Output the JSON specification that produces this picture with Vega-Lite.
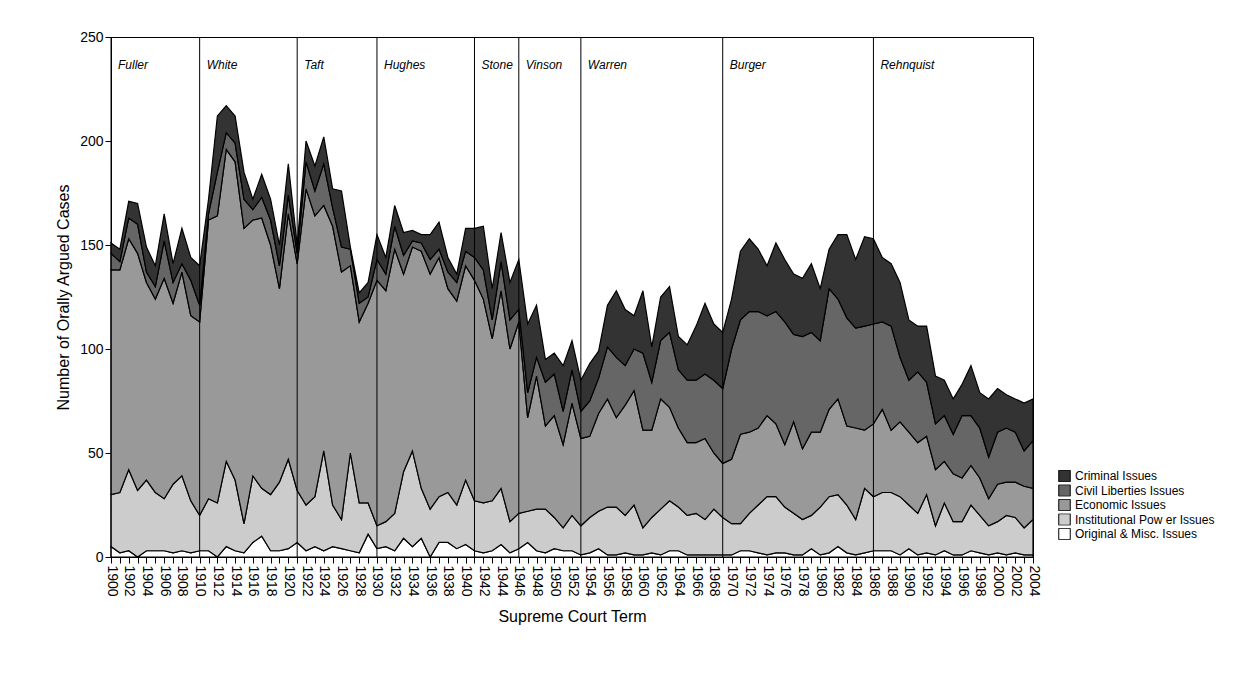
{
  "$schema": "https://vega.github.io/schema/vega-lite/v6.json",
  "width": 922,
  "height": 520,
  "autosize": {"type": "none"},
  "padding": {"left": 111, "top": 37, "right": 221, "bottom": 120},
  "background": "white",
  "config": {
    "font": "Liberation Sans",
    "view": {"stroke": "black", "strokeWidth": 1},
    "axis": {"domainColor": "black", "tickColor": "black", "labelColor": "black", "titleColor": "black", "grid": false, "titleFontWeight": "normal"}
  },
  "datasets": {
    "terms": [
      {"term": 1900, "orig": 5, "inst": 25, "econ": 108, "civil": 8, "crim": 5},
      {"term": 1901, "orig": 2, "inst": 29, "econ": 107, "civil": 4, "crim": 6},
      {"term": 1902, "orig": 3, "inst": 39, "econ": 111, "civil": 10, "crim": 8},
      {"term": 1903, "orig": 0, "inst": 32, "econ": 114, "civil": 14, "crim": 10},
      {"term": 1904, "orig": 3, "inst": 34, "econ": 95, "civil": 5, "crim": 12},
      {"term": 1905, "orig": 3, "inst": 28, "econ": 93, "civil": 6, "crim": 10},
      {"term": 1906, "orig": 3, "inst": 25, "econ": 106, "civil": 18, "crim": 13},
      {"term": 1907, "orig": 2, "inst": 33, "econ": 87, "civil": 10, "crim": 9},
      {"term": 1908, "orig": 3, "inst": 36, "econ": 98, "civil": 4, "crim": 17},
      {"term": 1909, "orig": 2, "inst": 25, "econ": 89, "civil": 17, "crim": 11},
      {"term": 1910, "orig": 3, "inst": 17, "econ": 93, "civil": 8, "crim": 19},
      {"term": 1911, "orig": 3, "inst": 25, "econ": 134, "civil": 3, "crim": 7},
      {"term": 1912, "orig": 0, "inst": 26, "econ": 138, "civil": 21, "crim": 27},
      {"term": 1913, "orig": 5, "inst": 41, "econ": 150, "civil": 8, "crim": 13},
      {"term": 1914, "orig": 3, "inst": 34, "econ": 153, "civil": 9, "crim": 13},
      {"term": 1915, "orig": 2, "inst": 14, "econ": 142, "civil": 14, "crim": 13},
      {"term": 1916, "orig": 7, "inst": 32, "econ": 123, "civil": 5, "crim": 5},
      {"term": 1917, "orig": 10, "inst": 23, "econ": 130, "civil": 10, "crim": 11},
      {"term": 1918, "orig": 3, "inst": 27, "econ": 120, "civil": 12, "crim": 10},
      {"term": 1919, "orig": 3, "inst": 33, "econ": 93, "civil": 11, "crim": 10},
      {"term": 1920, "orig": 4, "inst": 43, "econ": 118, "civil": 9, "crim": 15},
      {"term": 1921, "orig": 7, "inst": 25, "econ": 109, "civil": 5, "crim": 4},
      {"term": 1922, "orig": 3, "inst": 22, "econ": 152, "civil": 13, "crim": 10},
      {"term": 1923, "orig": 5, "inst": 24, "econ": 135, "civil": 12, "crim": 12},
      {"term": 1924, "orig": 3, "inst": 48, "econ": 118, "civil": 20, "crim": 13},
      {"term": 1925, "orig": 5, "inst": 20, "econ": 134, "civil": 9, "crim": 9},
      {"term": 1926, "orig": 4, "inst": 14, "econ": 119, "civil": 12, "crim": 27},
      {"term": 1927, "orig": 3, "inst": 47, "econ": 90, "civil": 8, "crim": 1},
      {"term": 1928, "orig": 2, "inst": 24, "econ": 87, "civil": 9, "crim": 5},
      {"term": 1929, "orig": 11, "inst": 15, "econ": 96, "civil": 3, "crim": 7},
      {"term": 1930, "orig": 4, "inst": 11, "econ": 118, "civil": 10, "crim": 12},
      {"term": 1931, "orig": 5, "inst": 12, "econ": 111, "civil": 8, "crim": 8},
      {"term": 1932, "orig": 3, "inst": 18, "econ": 127, "civil": 11, "crim": 10},
      {"term": 1933, "orig": 9, "inst": 32, "econ": 95, "civil": 9, "crim": 11},
      {"term": 1934, "orig": 5, "inst": 46, "econ": 98, "civil": 3, "crim": 5},
      {"term": 1935, "orig": 9, "inst": 24, "econ": 114, "civil": 4, "crim": 4},
      {"term": 1936, "orig": 0, "inst": 23, "econ": 113, "civil": 7, "crim": 12},
      {"term": 1937, "orig": 7, "inst": 22, "econ": 115, "civil": 4, "crim": 13},
      {"term": 1938, "orig": 7, "inst": 24, "econ": 98, "civil": 8, "crim": 7},
      {"term": 1939, "orig": 4, "inst": 21, "econ": 98, "civil": 9, "crim": 4},
      {"term": 1940, "orig": 6, "inst": 31, "econ": 103, "civil": 7, "crim": 11},
      {"term": 1941, "orig": 3, "inst": 24, "econ": 106, "civil": 11, "crim": 14},
      {"term": 1942, "orig": 2, "inst": 24, "econ": 98, "civil": 14, "crim": 21},
      {"term": 1943, "orig": 3, "inst": 24, "econ": 78, "civil": 9, "crim": 15},
      {"term": 1944, "orig": 6, "inst": 27, "econ": 95, "civil": 14, "crim": 14},
      {"term": 1945, "orig": 2, "inst": 15, "econ": 83, "civil": 14, "crim": 18},
      {"term": 1946, "orig": 4, "inst": 17, "econ": 92, "civil": 6, "crim": 24},
      {"term": 1947, "orig": 7, "inst": 15, "econ": 45, "civil": 12, "crim": 33},
      {"term": 1948, "orig": 3, "inst": 20, "econ": 64, "civil": 9, "crim": 25},
      {"term": 1949, "orig": 2, "inst": 21, "econ": 40, "civil": 21, "crim": 11},
      {"term": 1950, "orig": 4, "inst": 15, "econ": 49, "civil": 20, "crim": 10},
      {"term": 1951, "orig": 3, "inst": 11, "econ": 40, "civil": 16, "crim": 22},
      {"term": 1952, "orig": 3, "inst": 17, "econ": 54, "civil": 16, "crim": 14},
      {"term": 1953, "orig": 1, "inst": 14, "econ": 42, "civil": 13, "crim": 15},
      {"term": 1954, "orig": 2, "inst": 17, "econ": 39, "civil": 17, "crim": 18},
      {"term": 1955, "orig": 4, "inst": 18, "econ": 47, "civil": 17, "crim": 13},
      {"term": 1956, "orig": 1, "inst": 23, "econ": 52, "civil": 25, "crim": 20},
      {"term": 1957, "orig": 1, "inst": 23, "econ": 43, "civil": 29, "crim": 32},
      {"term": 1958, "orig": 2, "inst": 18, "econ": 53, "civil": 19, "crim": 27},
      {"term": 1959, "orig": 1, "inst": 24, "econ": 55, "civil": 20, "crim": 16},
      {"term": 1960, "orig": 1, "inst": 13, "econ": 47, "civil": 37, "crim": 30},
      {"term": 1961, "orig": 2, "inst": 17, "econ": 42, "civil": 23, "crim": 17},
      {"term": 1962, "orig": 1, "inst": 22, "econ": 53, "civil": 28, "crim": 21},
      {"term": 1963, "orig": 3, "inst": 24, "econ": 45, "civil": 36, "crim": 22},
      {"term": 1964, "orig": 3, "inst": 21, "econ": 38, "civil": 28, "crim": 16},
      {"term": 1965, "orig": 1, "inst": 19, "econ": 35, "civil": 30, "crim": 17},
      {"term": 1966, "orig": 1, "inst": 20, "econ": 34, "civil": 30, "crim": 26},
      {"term": 1967, "orig": 1, "inst": 17, "econ": 39, "civil": 31, "crim": 34},
      {"term": 1968, "orig": 1, "inst": 22, "econ": 27, "civil": 35, "crim": 27},
      {"term": 1969, "orig": 1, "inst": 18, "econ": 26, "civil": 36, "crim": 27},
      {"term": 1970, "orig": 1, "inst": 15, "econ": 31, "civil": 53, "crim": 24},
      {"term": 1971, "orig": 3, "inst": 13, "econ": 43, "civil": 55, "crim": 33},
      {"term": 1972, "orig": 3, "inst": 18, "econ": 39, "civil": 58, "crim": 35},
      {"term": 1973, "orig": 2, "inst": 23, "econ": 37, "civil": 56, "crim": 30},
      {"term": 1974, "orig": 1, "inst": 28, "econ": 39, "civil": 48, "crim": 24},
      {"term": 1975, "orig": 2, "inst": 27, "econ": 35, "civil": 54, "crim": 33},
      {"term": 1976, "orig": 2, "inst": 22, "econ": 30, "civil": 59, "crim": 30},
      {"term": 1977, "orig": 1, "inst": 20, "econ": 44, "civil": 42, "crim": 29},
      {"term": 1978, "orig": 1, "inst": 17, "econ": 34, "civil": 54, "crim": 28},
      {"term": 1979, "orig": 4, "inst": 16, "econ": 40, "civil": 48, "crim": 33},
      {"term": 1980, "orig": 1, "inst": 23, "econ": 36, "civil": 44, "crim": 25},
      {"term": 1981, "orig": 2, "inst": 27, "econ": 42, "civil": 58, "crim": 19},
      {"term": 1982, "orig": 5, "inst": 25, "econ": 46, "civil": 48, "crim": 31},
      {"term": 1983, "orig": 2, "inst": 23, "econ": 38, "civil": 52, "crim": 40},
      {"term": 1984, "orig": 1, "inst": 17, "econ": 44, "civil": 48, "crim": 33},
      {"term": 1985, "orig": 2, "inst": 31, "econ": 28, "civil": 50, "crim": 43},
      {"term": 1986, "orig": 3, "inst": 26, "econ": 35, "civil": 48, "crim": 41},
      {"term": 1987, "orig": 3, "inst": 28, "econ": 40, "civil": 42, "crim": 31},
      {"term": 1988, "orig": 3, "inst": 28, "econ": 30, "civil": 50, "crim": 30},
      {"term": 1989, "orig": 1, "inst": 28, "econ": 36, "civil": 31, "crim": 36},
      {"term": 1990, "orig": 4, "inst": 21, "econ": 35, "civil": 25, "crim": 29},
      {"term": 1991, "orig": 1, "inst": 20, "econ": 34, "civil": 34, "crim": 22},
      {"term": 1992, "orig": 2, "inst": 28, "econ": 28, "civil": 26, "crim": 27},
      {"term": 1993, "orig": 1, "inst": 14, "econ": 27, "civil": 22, "crim": 23},
      {"term": 1994, "orig": 3, "inst": 23, "econ": 20, "civil": 22, "crim": 17},
      {"term": 1995, "orig": 1, "inst": 16, "econ": 23, "civil": 19, "crim": 17},
      {"term": 1996, "orig": 1, "inst": 16, "econ": 21, "civil": 30, "crim": 15},
      {"term": 1997, "orig": 3, "inst": 22, "econ": 19, "civil": 24, "crim": 24},
      {"term": 1998, "orig": 2, "inst": 18, "econ": 18, "civil": 24, "crim": 17},
      {"term": 1999, "orig": 1, "inst": 14, "econ": 13, "civil": 20, "crim": 28},
      {"term": 2000, "orig": 2, "inst": 15, "econ": 18, "civil": 25, "crim": 21},
      {"term": 2001, "orig": 1, "inst": 19, "econ": 16, "civil": 26, "crim": 16},
      {"term": 2002, "orig": 2, "inst": 17, "econ": 17, "civil": 24, "crim": 16},
      {"term": 2003, "orig": 1, "inst": 13, "econ": 20, "civil": 17, "crim": 23},
      {"term": 2004, "orig": 1, "inst": 17, "econ": 15, "civil": 23, "crim": 20}
    ],
    "issues": [
      {"key": "orig", "issue": "Original & Misc. Issues", "rank": 1},
      {"key": "inst", "issue": "Institutional Pow er Issues", "rank": 2},
      {"key": "econ", "issue": "Economic Issues", "rank": 3},
      {"key": "civil", "issue": "Civil Liberties Issues", "rank": 4},
      {"key": "crim", "issue": "Criminal Issues", "rank": 5}
    ],
    "chiefs": [
      {"chief": "Fuller", "start": 1900},
      {"chief": "White", "start": 1910},
      {"chief": "Taft", "start": 1921},
      {"chief": "Hughes", "start": 1930},
      {"chief": "Stone", "start": 1941},
      {"chief": "Vinson", "start": 1946},
      {"chief": "Warren", "start": 1953},
      {"chief": "Burger", "start": 1969},
      {"chief": "Rehnquist", "start": 1986}
    ]
  },
  "layer": [
    {
      "data": {"name": "terms"},
      "transform": [
        {"fold": ["orig", "inst", "econ", "civil", "crim"], "as": ["key", "cases"]},
        {"lookup": "key", "from": {"data": {"name": "issues"}, "key": "key", "fields": ["issue", "rank"]}}
      ],
      "mark": {"type": "area", "stroke": "black", "strokeWidth": 1.2, "strokeJoin": "miter"},
      "encoding": {
        "x": {
          "field": "term", "type": "quantitative",
          "scale": {"domain": [1900, 2004], "nice": false, "zero": false},
          "axis": {
            "title": "Supreme Court Term", "titleFontSize": 16, "titlePadding": 12,
            "tickCount": 104, "format": "d", "labelExpr": "datum.value % 2 == 0 ? datum.label : ''",
            "labelAngle": 90, "labelAlign": "left", "labelBaseline": "middle", "labelFontSize": 14,
            "labelOverlap": false, "labelBound": false, "labelFlush": false, "labelPadding": 2, "tickSize": 6
          }
        },
        "y": {
          "field": "cases", "type": "quantitative", "stack": "zero",
          "scale": {"domain": [0, 250], "nice": false},
          "axis": {
            "title": "Number of Orally Argued Cases", "titleFontSize": 16, "titlePadding": 8,
            "values": [0, 50, 100, 150, 200, 250], "labelFontSize": 14, "tickSize": 6, "labelPadding": 2
          }
        },
        "color": {
          "field": "issue", "type": "nominal",
          "scale": {
            "domain": ["Criminal Issues", "Civil Liberties Issues", "Economic Issues", "Institutional Pow er Issues", "Original & Misc. Issues"],
            "range": ["#333333", "#666666", "#999999", "#cccccc", "#ffffff"]
          },
          "legend": {
            "title": null, "orient": "none", "legendX": 947, "legendY": 433,
            "symbolType": "square", "symbolSize": 132, "symbolStrokeColor": "black", "symbolStrokeWidth": 1,
            "symbolOpacity": 1, "labelFontSize": 12, "labelColor": "black", "rowPadding": 2.5, "labelOffset": 4,
            "clipHeight": 12
          }
        },
        "order": {"field": "rank", "type": "quantitative", "sort": "ascending"}
      }
    },
    {
      "data": {"name": "chiefs"},
      "mark": {"type": "rule", "color": "black", "strokeWidth": 1},
      "encoding": {"x": {"field": "start", "type": "quantitative"}}
    },
    {
      "data": {"name": "chiefs"},
      "mark": {"type": "text", "align": "left", "baseline": "middle", "dx": 7, "fontSize": 12, "fontStyle": "italic", "color": "black"},
      "encoding": {
        "x": {"field": "start", "type": "quantitative"},
        "y": {"datum": 236.5},
        "text": {"field": "chief"}
      }
    }
  ]
}
